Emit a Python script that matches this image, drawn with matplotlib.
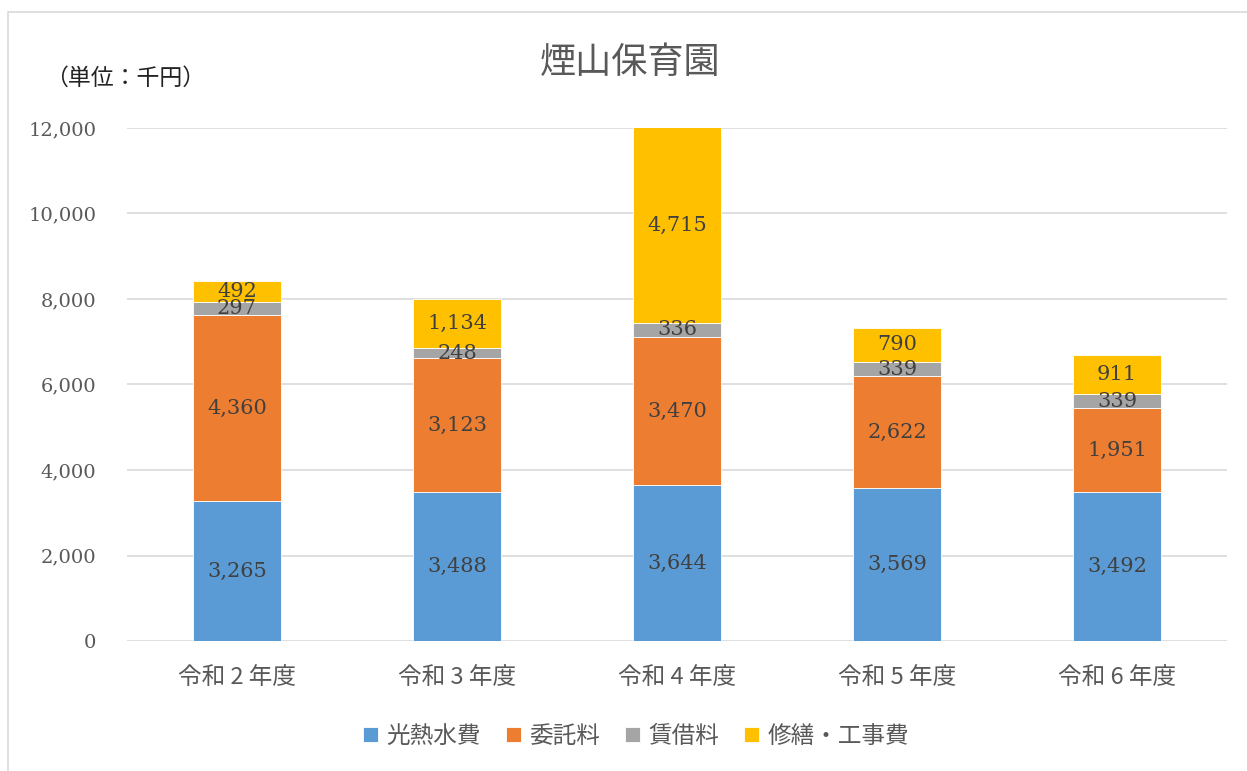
import numpy as np
import matplotlib
matplotlib.use("Agg")
import matplotlib.pyplot as plt
from matplotlib.patches import Rectangle

plt.rcParams['font.family'] = ['Noto Sans CJK JP', 'DejaVu Sans']

# 年度別の経費（千円）
years = ['令和 2 年度', '令和 3 年度', '令和 4 年度', '令和 5 年度', '令和 6 年度']
utilities = [3265, 3488, 3644, 3569, 3492]      # 光熱水費
outsourcing = [4360, 3123, 3470, 2622, 1951]    # 委託料
rent = [297, 248, 336, 339, 339]                # 賃借料
repairs = [492, 1134, 4715, 790, 911]           # 修繕・工事費

series_names = ['光熱水費', '委託料', '賃借料', '修繕・工事費']
colors = ['#5B9BD5', '#ED7D31', '#A5A5A5', '#FFC000']

fig = plt.figure(figsize=(12.47, 7.71), dpi=100)
ax = fig.add_axes([0.1018, 0.1686, 0.8822, 0.6654])

# chart frame (runs off the right and bottom edges)
fig.patches.append(Rectangle((8 / 1247, -0.05), 1.1, 1.05 - 12 / 771, transform=fig.transFigure,
                             fill=False, edgecolor='#D9D9D9', linewidth=1.2))

x = np.arange(len(years))
bottom = np.zeros(len(years))
for name, vals, c in zip(series_names, [utilities, outsourcing, rent, repairs], colors):
    bars = ax.bar(x, vals, 0.4, bottom=bottom, color=c, label=name,
                  edgecolor='white', linewidth=0.6, zorder=3)
    ax.bar_label(bars, labels=[f'{v:,}' for v in vals], label_type='center',
                 fontsize=15, color='#404040', family='DejaVu Serif', zorder=4)
    bottom += np.array(vals)

ax.set_ylim(0, 12000)
ax.set_xlim(-0.5, len(years) - 0.5)
ax.set_yticks(range(0, 12001, 2000))
ax.set_yticklabels([f'{v:,}' for v in range(0, 12001, 2000)],
                   family='DejaVu Serif', fontsize=14, color='#595959')
ax.set_xticks(x)
ax.set_xticklabels(years, fontsize=17, color='#595959')
ax.tick_params(axis='y', length=0, pad=22)
ax.tick_params(axis='x', length=0, pad=18)
ax.grid(axis='y', color='#D9D9D9', linewidth=1.2, zorder=0)
for s in ax.spines.values():
    s.set_visible(False)

fig.text(0.505, 0.918, '煙山保育園', ha='center', va='center', fontsize=26, color='#595959')
fig.text(0.036, 0.898, '（単位：千円）', ha='left', va='center', fontsize=16.5, color='#222222')

fig.legend(loc='center', bbox_to_anchor=(0.510, 0.045), ncol=4, frameon=False,
           fontsize=17, labelcolor='#595959', handlelength=0.65, handleheight=0.65,
           handletextpad=0.35, columnspacing=1.05)

fig.savefig('out.png', dpi=100)
